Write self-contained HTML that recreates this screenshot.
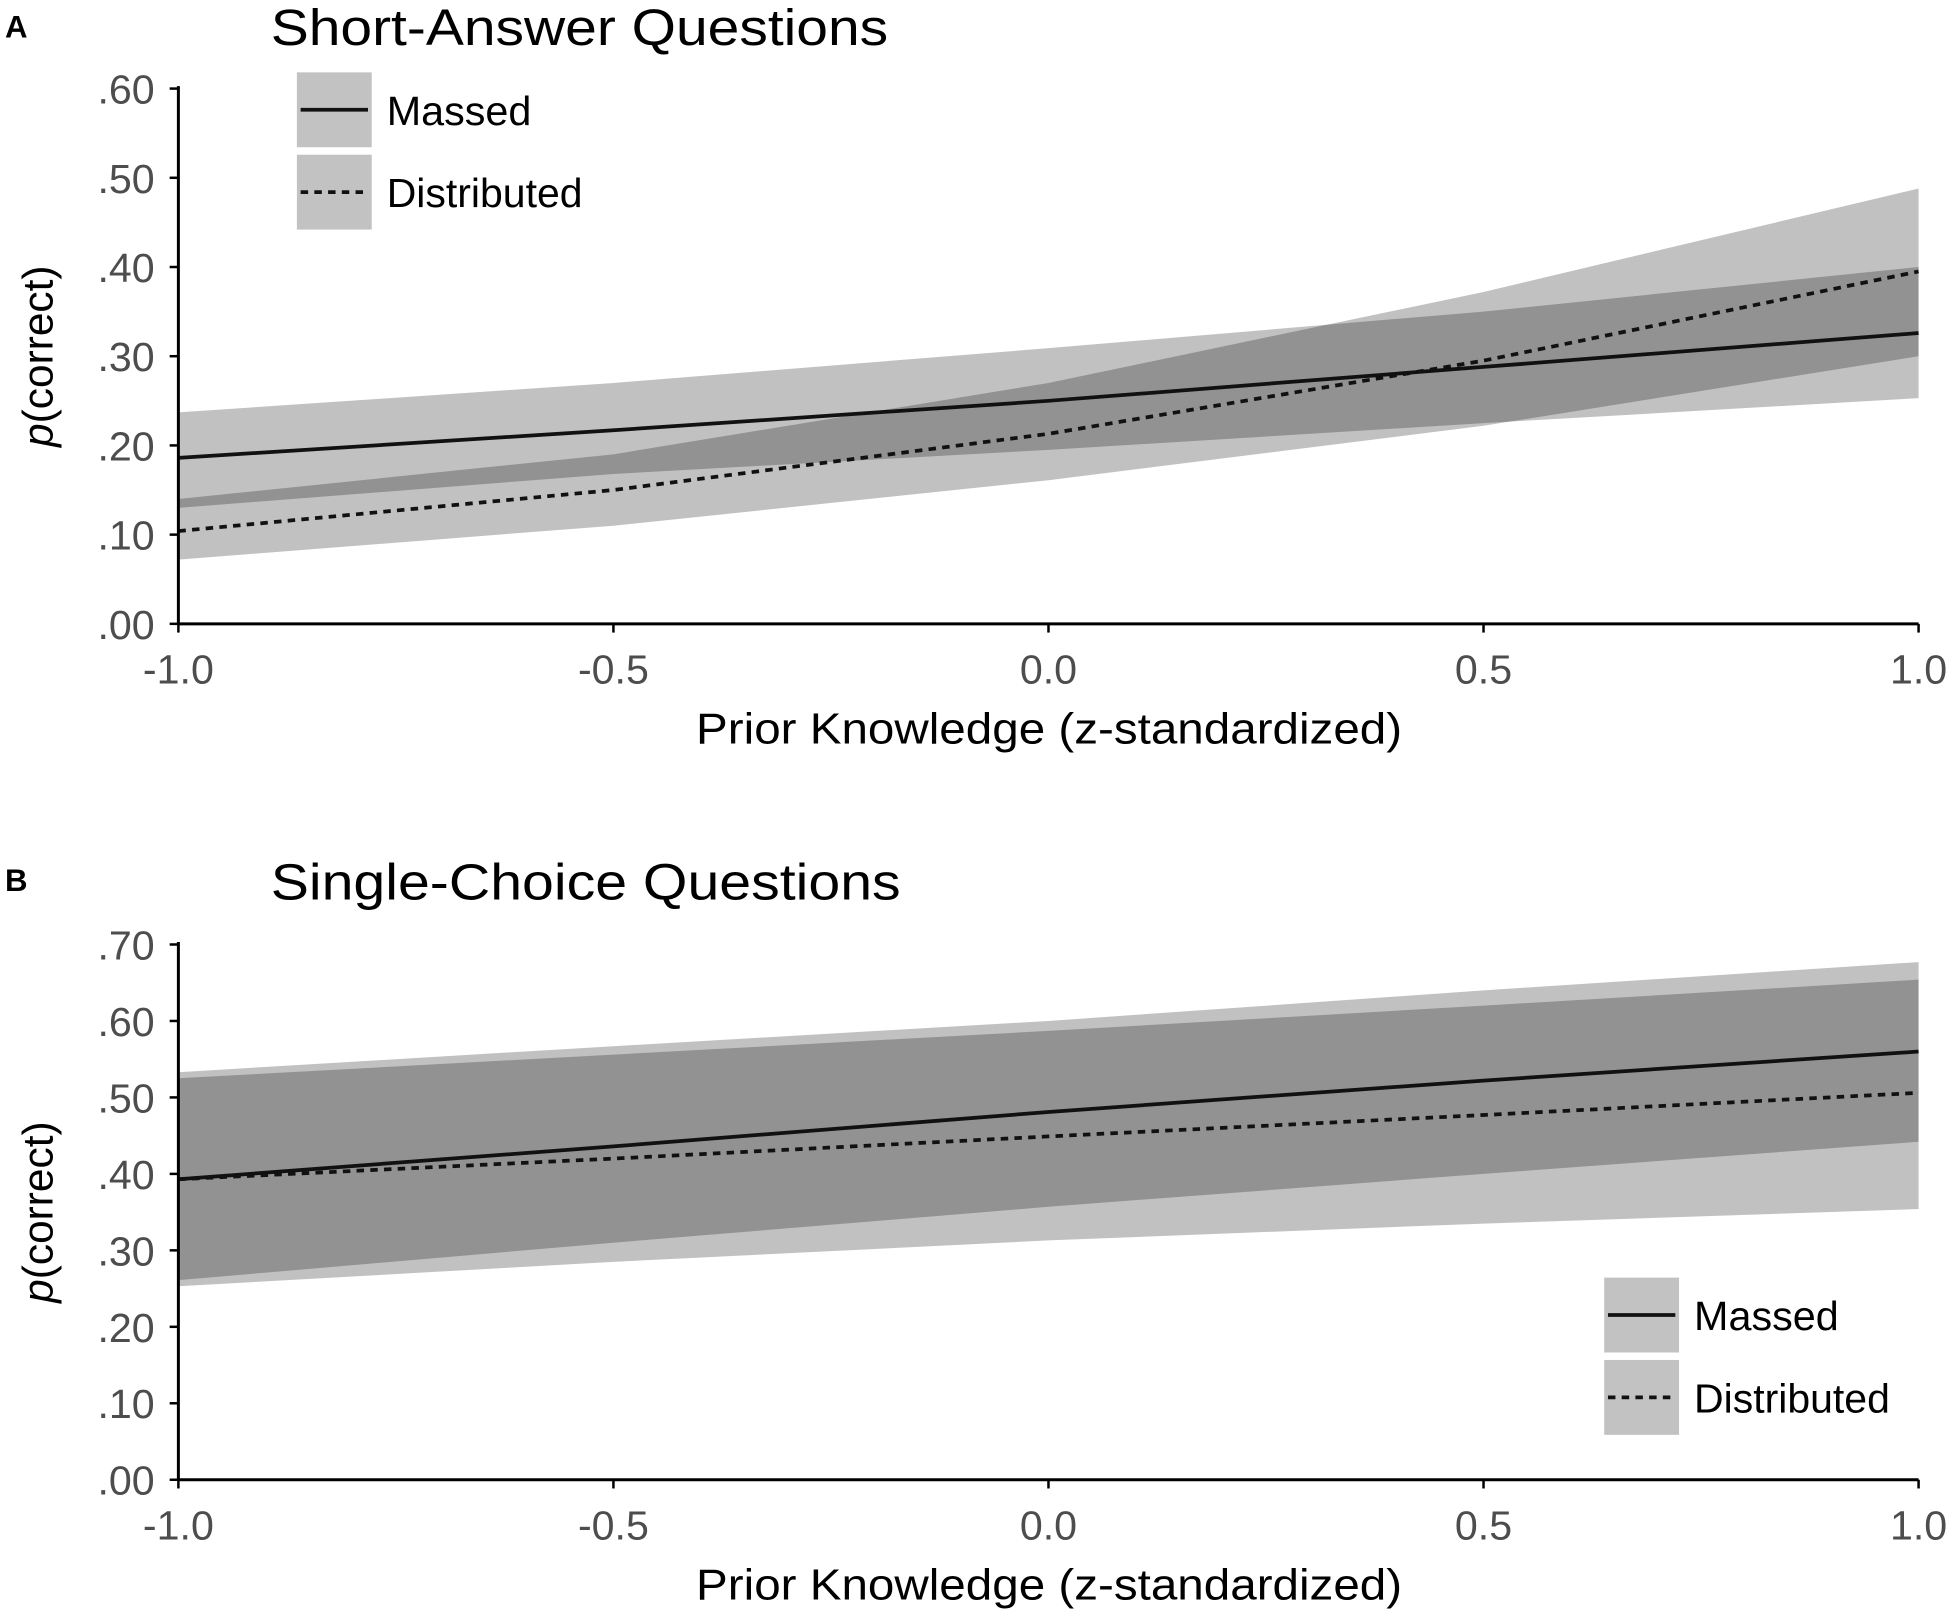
<!DOCTYPE html>
<html><head><meta charset="utf-8">
<style>
html,body{margin:0;padding:0;background:#fff;}
svg{display:block;font-family:"Liberation Sans",Arial,sans-serif;}
</style></head>
<body>
<svg id="fig" width="1956" height="1612" viewBox="0 0 1568 1292" preserveAspectRatio="none" xmlns="http://www.w3.org/2000/svg">
</svg>
<script>
// ---- data ----
const xs = [-1, -0.5, 0, 0.5, 1];
const xTicks = [-1, -0.5, 0, 0.5, 1];
const xTickLabels = ["-1.0", "-0.5", "0.0", "0.5", "1.0"];

// Panel A: Short-Answer
const aMassedLine = [0.186, 0.217, 0.250, 0.288, 0.326];
const aMassedUpper = [0.237, 0.270, 0.309, 0.350, 0.400];
const aMassedLower = [0.130, 0.168, 0.195, 0.225, 0.253];
const aDistLine = [0.104, 0.150, 0.213, 0.295, 0.395];
const aDistUpper = [0.140, 0.190, 0.270, 0.372, 0.488];
const aDistLower = [0.072, 0.110, 0.161, 0.222, 0.300];
const aYTicks = [0, 0.1, 0.2, 0.3, 0.4, 0.5, 0.6];
const aYTickLabels = [".00", ".10", ".20", ".30", ".40", ".50", ".60"];

// Panel B: Single-Choice
const bMassedLine = [0.393, 0.436, 0.481, 0.522, 0.560];
const bMassedUpper = [0.533, 0.567, 0.600, 0.640, 0.677];
const bMassedLower = [0.261, 0.310, 0.357, 0.400, 0.442];
const bDistLine = [0.393, 0.420, 0.449, 0.477, 0.506];
const bDistUpper = [0.525, 0.556, 0.587, 0.620, 0.654];
const bDistLower = [0.253, 0.285, 0.313, 0.335, 0.354];
const bYTicks = [0, 0.1, 0.2, 0.3, 0.4, 0.5, 0.6, 0.7];
const bYTickLabels = [".00", ".10", ".20", ".30", ".40", ".50", ".60", ".70"];

const NS = "http://www.w3.org/2000/svg";
const svg = document.getElementById("fig");
function mk(tag, attrs, parent) {
  const e = document.createElementNS(NS, tag);
  for (const k in attrs) e.setAttribute(k, attrs[k]);
  (parent || svg).appendChild(e);
  return e;
}

function panel(cfg) {
  const g = mk("g", {});
  
  
  const X = v => cfg.x0 + (v - (-1)) / 2 * (cfg.x1 - cfg.x0);
  const Y = v => cfg.y0 - v / cfg.ymax * (cfg.y0 - cfg.yTop);

  const L = mk("text", {x: 4, y: cfg.letterY, "font-size": 25, "font-weight": "bold", fill: "#000"}, g);
  L.textContent = cfg.letter;
  
  
  const T = mk("text", {x: 217, y: cfg.titleY, "font-size": 41, fill: "#000", textLength: cfg.titleW, lengthAdjust: "spacingAndGlyphs"}, g);
  T.textContent = cfg.title;
  
  

  function band(up, lo, nm) {
    let d = "";
    xs.forEach((x, i) => { d += (i ? "L" : "M") + X(x) + "," + Y(up[i]); });
    for (let i = xs.length - 1; i >= 0; i--) d += "L" + X(xs[i]) + "," + Y(lo[i]);
    d += "Z";
    const p = mk("path", {d: d, fill: "#000", "fill-opacity": 0.245}, g);
    
    
  }
  band(cfg.mU, cfg.mL, 'massed-ci-band');
  band(cfg.dU, cfg.dL, 'distributed-ci-band');

  function line(vals, dash, nm) {
    const pts = xs.map((x, i) => X(x) + "," + Y(vals[i])).join(" ");
    const attrs = {points: pts, fill: "none", stroke: "#111", "stroke-width": 3};
    if (dash) attrs["stroke-dasharray"] = "6,5";
    const p = mk("polyline", attrs, g);
    
    
  }
  line(cfg.mLine, false, 'massed-line');
  line(cfg.dLine, true, 'distributed-line');

  const ya = mk("line", {x1: cfg.x0, y1: cfg.yTop - 2, x2: cfg.x0, y2: cfg.y0, stroke: "#000", "stroke-width": 2.4}, g);
  
  
  const xa = mk("line", {x1: cfg.x0, y1: cfg.y0, x2: cfg.x1, y2: cfg.y0, stroke: "#000", "stroke-width": 2.4}, g);
  
  

  cfg.yTicks.forEach((v, i) => {
    const y = Y(v);
    const t = mk("line", {x1: cfg.x0 - 7, y1: y, x2: cfg.x0, y2: y, stroke: "#000", "stroke-width": 2}, g);
    
    
    const lb = mk("text", {x: 124, y: y + 12, "font-size": 33, "text-anchor": "end", fill: "#4d4d4d"}, g);
    lb.textContent = cfg.yLabels[i];
    
    
  });
  xTicks.forEach((v, i) => {
    const x = X(v);
    const t = mk("line", {x1: x, y1: cfg.y0, x2: x, y2: cfg.y0 + 7, stroke: "#000", "stroke-width": 2}, g);
    
    
    const lb = mk("text", {x: x, y: cfg.y0 + 48, "font-size": 33, "text-anchor": "middle", fill: "#4d4d4d"}, g);
    lb.textContent = xTickLabels[i];
    
    
  });
  const xt = mk("text", {x: 558, y: cfg.y0 + 96, "font-size": 35, fill: "#000", textLength: 566, lengthAdjust: "spacingAndGlyphs"}, g);
  xt.textContent = "Prior Knowledge (z-standardized)";
  
  
  const cy = (cfg.y0 + cfg.yTop) / 2;
  const yt = mk("text", {x: 0, y: 0, "font-size": 34, "text-anchor": "middle", fill: "#000", transform: "translate(42," + cy + ") rotate(-90)"}, g);
  yt.innerHTML = '<tspan font-style="italic">p</tspan>(correct)';
  
  

  const lg = mk("g", {}, g);
  
  
  [["Massed", false, 116], ["Distributed", true, 157]].forEach((e, i) => {
    const ky = cfg.legY + i * 66;
    const eg = mk("g", {}, lg);
    
    
    mk("rect", {x: cfg.legX, y: ky, width: 60, height: 60, fill: "#c2c2c2"}, eg);
    const la = {x1: cfg.legX + 3, y1: ky + 30, x2: cfg.legX + 57, y2: ky + 30, stroke: "#111", "stroke-width": 3};
    if (e[1]) la["stroke-dasharray"] = "6,5";
    mk("line", la, eg);
    const tx = mk("text", {x: cfg.legX + 72, y: ky + 42, "font-size": 33, fill: "#000", textLength: e[2], lengthAdjust: "spacingAndGlyphs"}, eg);
    tx.textContent = e[0];
  });
}

panel({name: 'panel-a-short-answer', letter: "A", letterY: 30, title: "Short-Answer Questions", titleY: 36, titleW: 495,
  x0: 143, x1: 1538, y0: 500, yTop: 71, ymax: 0.6,
  mLine: aMassedLine, mU: aMassedUpper, mL: aMassedLower,
  dLine: aDistLine, dU: aDistUpper, dL: aDistLower,
  yTicks: aYTicks, yLabels: aYTickLabels, legX: 238, legY: 58});

panel({name: 'panel-b-single-choice', letter: "B", letterY: 714, title: "Single-Choice Questions", titleY: 721, titleW: 505,
  x0: 143, x1: 1538, y0: 1186, yTop: 757, ymax: 0.7,
  mLine: bMassedLine, mU: bMassedUpper, mL: bMassedLower,
  dLine: bDistLine, dU: bDistUpper, dL: bDistLower,
  yTicks: bYTicks, yLabels: bYTickLabels, legX: 1286, legY: 1024});
</script>
</body></html>
